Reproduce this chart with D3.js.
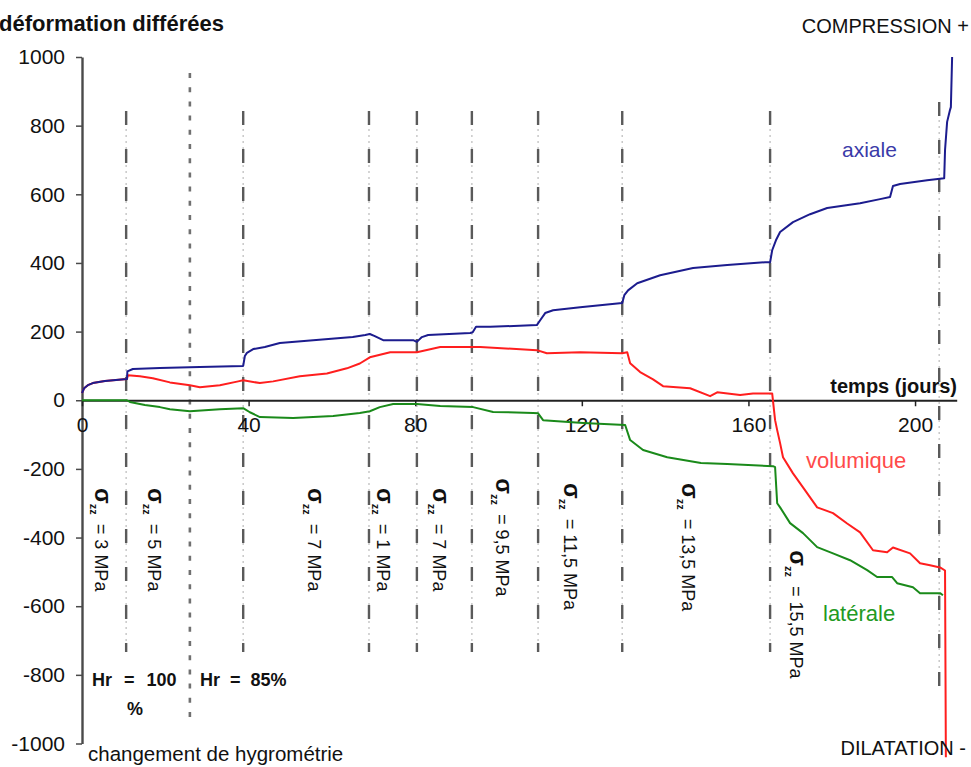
<!DOCTYPE html>
<html>
<head>
<meta charset="utf-8">
<script src="https://cdn.jsdelivr.net/npm/d3@7"></script>
<style>
  body { margin: 0; background: #fff; }
  svg { display: block; font-family: "Liberation Sans", Arial, sans-serif; }
</style>
</head>
<body>
<svg id="chart" width="971" height="767"></svg>
<script>
// Time axis (days) and strain axis (µdef)
const xTicks = [0, 40, 80, 120, 160, 200];
const yTicks = [1000, 800, 600, 400, 200, 0, -200, -400, -600, -800, -1000];

// Days at which the axial stress was changed
const loadDays = [10.6, 38.7, 68.9, 80.4, 93.6, 109.5, 129.7, 165.2, 205.8];
// Day of the humidity change (100 % -> 85 %)
const humidityDay = 25.9;

// Stress level of each stage (MPa) and where its label sits [day, strain]
const stressLevels = ["3", "5", "7", "1", "7", "9,5", "11,5", "13,5", "15,5"];
const stressLabelAt = [[3.1, -256], [15.8, -256], [54.3, -256], [70.8, -256], [84.3, -256],
                       [99.5, -227], [115.6, -241], [144.1, -241], [170, -437]];

// Delayed strain curves: [day, strain]
const axiale = [
  [0, 21], [0.5, 35], [1.4, 44], [2.6, 50], [5.5, 56], [10.8, 62], [10.9, 84], [12.2, 91],
  [18.7, 94], [28.3, 97], [38.7, 100], [39.1, 129], [39.6, 138], [41.1, 149], [43.9, 155],
  [47.5, 167], [55.5, 175], [65, 184], [68, 190], [69.1, 193], [70.3, 187], [72.3, 175],
  [79.5, 175], [80.4, 170], [81.6, 184], [83.1, 190], [93.2, 196], [93.8, 198], [94.6, 214],
  [98, 214], [109.2, 219], [110, 233], [111.2, 254], [113.1, 262], [119.6, 271], [129.7, 283],
  [130.2, 306], [131.1, 320], [133.3, 341], [138.8, 364], [146.7, 385], [154.9, 394],
  [164, 402], [165.2, 402], [165.7, 437], [166.6, 466], [167.6, 490], [170.7, 519],
  [174.8, 542], [178.9, 560], [186.8, 574], [191.6, 586], [194, 592], [194.7, 624],
  [196.4, 630], [202.9, 641], [207, 647], [207.2, 729], [207.7, 811], [208.4, 846],
  [208.6, 854], [208.9, 1000]
];
const volumique = [
  [0, 21], [0.5, 35], [1.4, 44], [2.6, 50], [5.5, 56], [10.8, 62], [11, 73], [13.9, 70],
  [17, 64], [21.1, 52], [25.9, 44], [28.3, 38], [33.1, 44], [37.5, 55], [38.7, 58],
  [42.7, 50], [45.9, 55], [52.3, 70], [58.8, 78], [63.6, 93], [66.7, 107], [69.1, 125],
  [74, 140], [80.4, 140], [86, 155], [95.6, 155], [109.2, 146], [111.6, 137], [119.6, 140],
  [129.7, 137], [130.9, 140], [131.6, 108], [134, 82], [137.1, 61], [139.5, 41], [146, 35],
  [150.8, 12], [152.5, 23], [158, 15], [161.1, 20], [165.7, 20], [166.4, -58], [166.9, -87],
  [167.6, -125], [168.3, -166], [170.7, -213], [173.1, -254], [176.5, -312], [180.3, -329],
  [183.7, -359], [186.8, -385], [189.9, -437], [193.3, -443], [194.7, -429], [198.8, -446],
  [201.2, -475], [203.6, -481], [206, -487], [207.2, -496], [207.4, -1040]
];
const laterale = [
  [0, 0], [10.8, 0], [11.5, -5], [15.1, -14], [18.7, -20], [21.1, -26], [25.9, -32],
  [33.1, -26], [38.7, -23], [40.3, -35], [42.7, -49], [50.7, -52], [60.3, -46], [66.7, -37],
  [69.1, -32], [71.5, -20], [74.7, -11], [80.4, -11], [86, -17], [93.9, -20], [98.7, -34],
  [108.3, -37], [109.5, -38], [110.7, -58], [120.3, -66], [130.4, -72], [131.6, -116],
  [134.7, -145], [140.5, -166], [148.6, -183], [154.9, -186], [165.9, -192], [166.4, -195],
  [166.9, -300], [167.6, -312], [170, -358], [173.1, -387], [176.5, -428], [180.3, -446],
  [184.4, -466], [188.5, -495], [190.9, -515], [194.5, -515], [195.7, -533], [199.5, -545],
  [201.2, -562], [206, -562], [206.7, -568]
];

const svg = d3.select("#chart");
const x = d3.scaleLinear().domain([0, 210]).range([82, 956.7]);
const y = d3.scaleLinear().domain([-1000, 1000]).range([743.5, 57]);
const plain = d => String(d);

// Vertical markers for each loading stage: light dotted trace with long dark dashes over it
const markers = svg.append("g");
loadDays.forEach((d, i) => {
  const last = i === loadDays.length - 1;
  const top = last ? 102 : 111, bottom = last ? 690 : 652;
  markers.append("line")
    .attr("x1", x(d)).attr("x2", x(d)).attr("y1", top).attr("y2", bottom)
    .attr("stroke", "#c8c8c8").attr("stroke-width", 1.5).attr("stroke-dasharray", "2,4");
  markers.append("line")
    .attr("x1", x(d)).attr("x2", x(d)).attr("y1", top).attr("y2", bottom)
    .attr("stroke", "#5a5a5a").attr("stroke-width", 2.4).attr("stroke-dasharray", "14,24");
});
// Humidity change marker
markers.append("line")
  .attr("x1", x(humidityDay)).attr("x2", x(humidityDay)).attr("y1", 73).attr("y2", 723)
  .attr("stroke", "#707070").attr("stroke-width", 2.6).attr("stroke-dasharray", "5,9.2");

// Axes
const yAxis = svg.append("g").attr("transform", `translate(${x(0)},0)`)
  .call(d3.axisLeft(y).tickValues(yTicks).tickFormat(plain)
    .tickSize(6).tickSizeOuter(0).tickPadding(11));
yAxis.select(".domain").attr("stroke", "#4a4a4a").attr("stroke-width", 2.4);
yAxis.selectAll(".tick line").attr("stroke", "#4a4a4a").attr("stroke-width", 1.5);
yAxis.selectAll("text").attr("font-size", 21).attr("fill", "#111")
  .attr("font-family", "Liberation Sans, Arial, sans-serif");

const xAxis = svg.append("g").attr("transform", `translate(0,${y(0)})`)
  .call(d3.axisBottom(x).tickValues(xTicks).tickFormat(plain)
    .tickSize(6).tickSizeOuter(0).tickPadding(11));
xAxis.select(".domain").attr("stroke", "#222").attr("stroke-width", 2);
xAxis.selectAll(".tick line").attr("stroke", "#222").attr("stroke-width", 1.5);
xAxis.selectAll("text").attr("font-size", 21).attr("fill", "#111")
  .attr("font-family", "Liberation Sans, Arial, sans-serif");

// Curves
const line = d3.line().x(d => x(d[0])).y(d => y(d[1]));
const curves = [[laterale, "#1a8a1a"], [volumique, "#ff1e1e"], [axiale, "#1c1c8e"]];
curves.forEach(([data, color]) => {
  svg.append("path").datum(data).attr("d", line)
    .attr("fill", "none").attr("stroke", color).attr("stroke-width", 2)
    .attr("stroke-linejoin", "round");
});

// Stress level labels, written top to bottom
stressLevels.forEach((lvl, i) => {
  const [d, v] = stressLabelAt[i];
  const t = svg.append("text")
    .attr("transform", `translate(${x(d)},${y(v)}) rotate(90)`)
    .attr("fill", "#111").style("white-space", "pre");
  t.append("tspan").attr("font-size", 23).attr("font-weight", "bold").text("σ");
  t.append("tspan").attr("font-size", 11).attr("font-weight", "bold").attr("dy", 5).text("zz");
  t.append("tspan").attr("font-size", 18).attr("dy", -5).attr("dx", 9).text(`= ${lvl} MPa`);
});

// Text annotations
const txt = (s, px, py, opts = {}) => svg.append("text")
  .attr("x", px).attr("y", py)
  .attr("font-size", opts.size || 20)
  .attr("font-weight", opts.bold ? "bold" : "normal")
  .attr("fill", opts.color || "#111")
  .attr("text-anchor", opts.anchor || "start")
  .style("white-space", "pre")
  .text(s);

txt("déformation différées", -1, 31, {size: 22, bold: true});
txt("COMPRESSION +", 969, 33, {size: 20, anchor: "end"});
txt("DILATATION -", 966, 755, {size: 20, anchor: "end"});
txt("temps (jours)", 957, 393, {size: 20, bold: true, anchor: "end"});
txt("axiale", 842, 157, {size: 21, color: "#3a3aa8"});
txt("volumique", 806, 468, {size: 22, color: "#ff4a4a"});
txt("latérale", 823, 621, {size: 22, color: "#229a22"});
txt("Hr = 100", 92, 686, {size: 18, bold: true}).style("word-spacing", "7px");
txt("%", 135, 715, {size: 18, bold: true, anchor: "middle"});
txt("Hr = 85%", 200, 686, {size: 18, bold: true}).style("word-spacing", "5px");
txt("changement de hygrométrie", 88, 761, {size: 20.5});
</script>
</body>
</html>
